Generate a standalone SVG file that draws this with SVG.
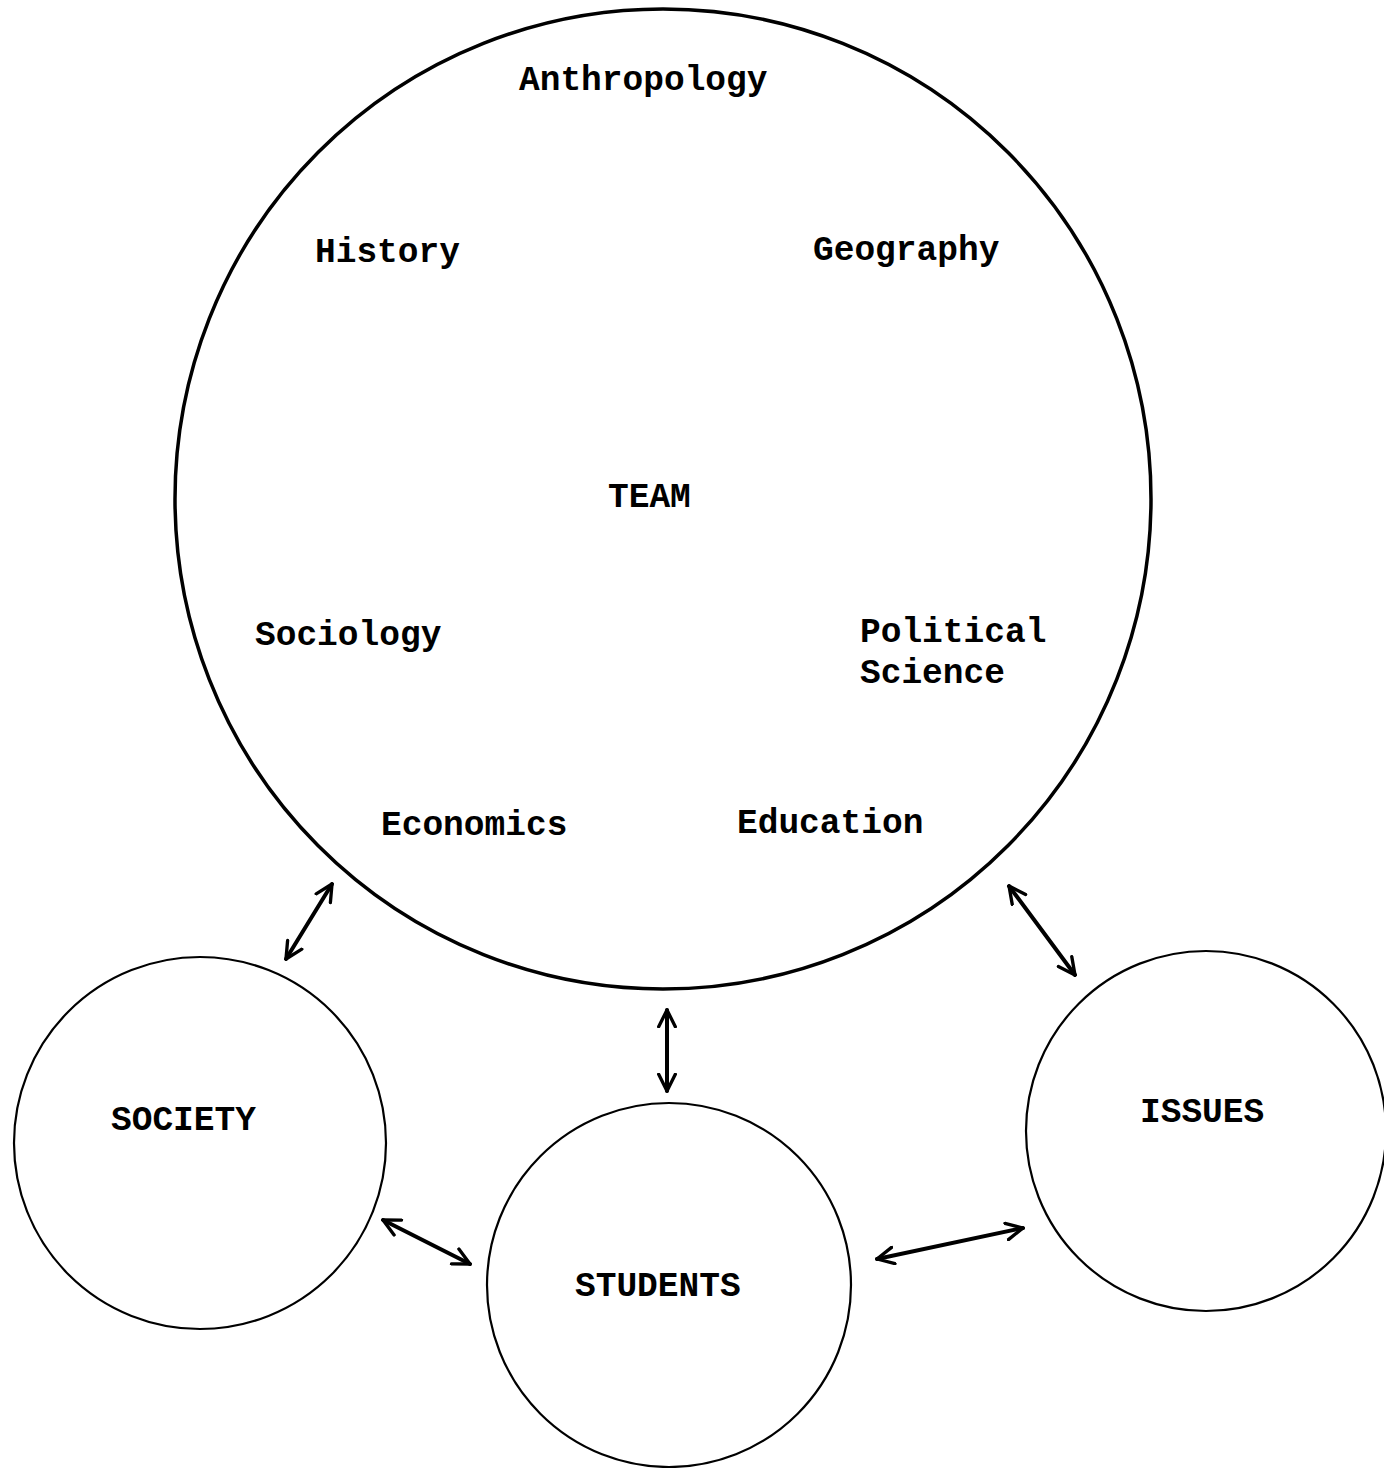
<svg xmlns="http://www.w3.org/2000/svg" width="1384" height="1468" viewBox="0 0 1384 1468">
<style>
.t{font-family:"Liberation Mono","DejaVu Sans Mono",monospace;font-weight:bold;font-size:34.5px;fill:#000}
.big{fill:none;stroke:#000;stroke-width:3.5}
.sm{fill:none;stroke:#000;stroke-width:2.2}
.ar{fill:none;stroke:#000;stroke-width:4;stroke-linecap:round;marker-start:url(#ah);marker-end:url(#ah)}
</style>
<defs>
<marker id="ah" viewBox="0 0 12 12" refX="11" refY="6" markerWidth="5" markerHeight="5" orient="auto-start-reverse" markerUnits="strokeWidth">
<path d="M1,1 L11,6 L1,11" fill="none" stroke="#000" stroke-width="2" stroke-linecap="round" stroke-linejoin="round"/>
</marker>
</defs>
<rect width="1384" height="1468" fill="#fff"/>
<g id="team">
<ellipse class="big" cx="663" cy="499" rx="488" ry="490"/>
<text class="t" x="519" y="90">Anthropology</text>
<text class="t" x="315" y="262">History</text>
<text class="t" x="813" y="260">Geography</text>
<text class="t" x="608" y="507">TEAM</text>
<text class="t" x="255" y="645">Sociology</text>
<text class="t" x="860" y="642">Political</text>
<text class="t" x="860" y="683">Science</text>
<text class="t" x="381" y="835">Economics</text>
<text class="t" x="737" y="833">Education</text>
</g>
<g id="society">
<circle class="sm" cx="200" cy="1143" r="186"/>
<text class="t" x="111" y="1130">SOCIETY</text>
</g>
<g id="students">
<circle class="sm" cx="669" cy="1285" r="182"/>
<text class="t" x="575" y="1296">STUDENTS</text>
</g>
<g id="issues">
<circle class="sm" cx="1206" cy="1131" r="180"/>
<text class="t" x="1140" y="1122">ISSUES</text>
</g>
<g id="connectors">
<line class="ar" x1="332" y1="884" x2="286" y2="959"/>
<line class="ar" x1="667" y1="1010" x2="667" y2="1091"/>
<line class="ar" x1="1009" y1="886" x2="1075" y2="975"/>
<line class="ar" x1="383" y1="1220" x2="470" y2="1264"/>
<line class="ar" x1="877" y1="1259" x2="1023" y2="1228"/>
</g>
</svg>
